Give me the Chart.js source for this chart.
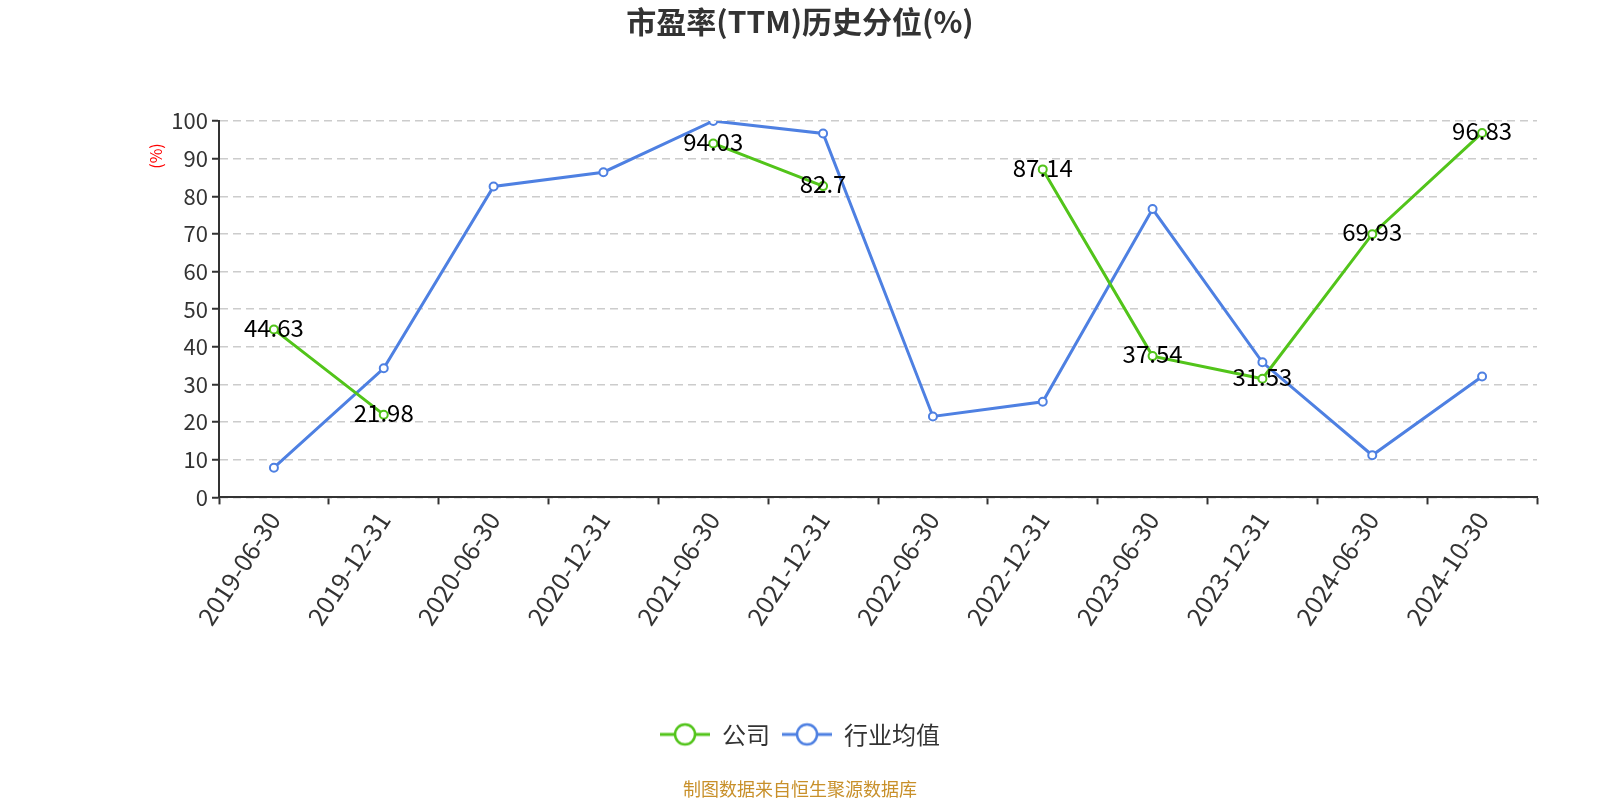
<!DOCTYPE html>
<html>
<head>
<meta charset="utf-8">
<script src="https://cdn.jsdelivr.net/npm/chart.js@4/dist/chart.umd.min.js"></script>
<style>
html,body{margin:0;padding:0;background:#fff;}
#wrap{width:1600px;height:800px;position:relative;}
</style>
</head>
<body>
<div id="wrap"><canvas id="c" width="1600" height="800"></canvas></div>
<script>
const categories = ['2019-06-30','2019-12-31','2020-06-30','2020-12-31','2021-06-30','2021-12-31','2022-06-30','2022-12-31','2023-06-30','2023-12-31','2024-06-30','2024-10-30'];
const companyValues = [44.63, 21.98, null, null, 94.03, 82.7, null, 87.14, 37.54, 31.53, 69.93, 96.83];
const industryValues = [7.9, 34.3, 82.6, 86.4, 100, 96.7, 21.5, 25.4, 76.6, 35.9, 11.2, 32.1];
const yTicks = [0,10,20,30,40,50,60,70,80,90,100];

const FONT = '"Noto Sans CJK SC", "Noto Sans", sans-serif';
const GREEN = '#52c41a';
const BLUE = '#4e80e2';

function legendIcon(color){
  const c = document.createElement('canvas');
  c.width = 50; c.height = 26;
  const g = c.getContext('2d');
  g.strokeStyle = color; g.lineWidth = 3;
  g.beginPath(); g.moveTo(0,13); g.lineTo(50,13); g.stroke();
  g.beginPath(); g.arc(25,13,10,0,Math.PI*2);
  g.fillStyle = '#fff'; g.fill();
  g.lineWidth = 2.5; g.stroke();
  return c;
}

const dataLabels = {
  id: 'dataLabels',
  afterDatasetsDraw(chart){
    const ctx = chart.ctx;
    const meta = chart.getDatasetMeta(0);
    ctx.save();
    ctx.font = '24px ' + FONT;
    ctx.fillStyle = '#000';
    ctx.textAlign = 'center';
    ctx.textBaseline = 'middle';
    meta.data.forEach((pt, i) => {
      const v = companyValues[i];
      if (v === null || v === undefined) return;
      ctx.fillText(String(v), pt.x, pt.y - 2);
    });
    ctx.restore();
  }
};

const yUnit = {
  id: 'yUnit',
  afterDraw(chart){
    const ctx = chart.ctx;
    const a = chart.chartArea;
    ctx.save();
    ctx.translate(a.left - 63, a.top + 35);
    ctx.rotate(-Math.PI/2);
    ctx.font = '16px ' + FONT;
    ctx.fillStyle = '#ff0000';
    ctx.textAlign = 'center';
    ctx.textBaseline = 'middle';
    ctx.fillText('(%)', 0, 0);
    ctx.restore();
  }
};

new Chart(document.getElementById('c'), {
  type: 'line',
  data: {
    labels: categories,
    datasets: [
      {
        label: '公司',
        data: companyValues,
        borderColor: GREEN,
        backgroundColor: '#fff',
        borderWidth: 3,
        pointRadius: 4,
        pointBorderWidth: 2,
        pointBackgroundColor: '#fff',
        pointBorderColor: GREEN,
        spanGaps: false,
        tension: 0
      },
      {
        label: '行业均值',
        data: industryValues,
        borderColor: BLUE,
        backgroundColor: '#fff',
        borderWidth: 3,
        pointRadius: 4,
        pointBorderWidth: 2,
        pointBackgroundColor: '#fff',
        pointBorderColor: BLUE,
        tension: 0
      }
    ]
  },
  options: {
    responsive: false,
    animation: false,
    layout: { padding: { left: 63, right: 63, top: 0, bottom: 0 } },
    plugins: {
      title: {
        display: true,
        text: '市盈率(TTM)历史分位(%)',
        color: '#333',
        font: { family: FONT, size: 30, weight: 'bold' },
        padding: { top: 4, bottom: 81 }
      },
      subtitle: {
        display: true,
        position: 'bottom',
        text: '制图数据来自恒生聚源数据库',
        color: '#c8902a',
        font: { family: FONT, size: 18 },
        padding: { top: 22, bottom: 0 }
      },
      legend: {
        position: 'bottom',
        labels: {
          color: '#333',
          font: { family: FONT, size: 24 },
          usePointStyle: true,
          pointStyleWidth: 50,
          boxHeight: 26,
          padding: 12,
          generateLabels(chart){
            return chart.data.datasets.map((ds, i) => ({
              text: ds.label,
              pointStyle: legendIcon(ds.borderColor),
              fillStyle: '#fff',
              strokeStyle: ds.borderColor,
              lineWidth: 0,
              hidden: false,
              datasetIndex: i,
              fontColor: '#333'
            }));
          }
        }
      },
      tooltip: { enabled: false }
    },
    scales: {
      x: {
        offset: true,
        grid: {
          display: true,
          drawOnChartArea: false,
          drawTicks: true,
          offset: true,
          tickLength: 7,
          tickColor: '#333',
          tickWidth: 2
        },
        border: { display: true, color: '#333', width: 2 },
        ticks: {
          color: '#333',
          font: { family: FONT, size: 25 },
          minRotation: 57,
          maxRotation: 57,
          autoSkip: false,
          padding: 2
        },
        afterFit(axis){ axis.height = 213; }
      },
      y: {
        min: 0,
        max: 100,
        afterBuildTicks(axis){ axis.ticks = yTicks.map(v => ({ value: v })); },
        afterFit(axis){ axis.width = 156; },
        grid: {
          color: '#cccccc',
          lineWidth: 1.5,
          drawTicks: true,
          tickLength: 7,
          tickColor: '#333',
          tickWidth: 2,
          tickBorderDash: []
        },
        border: { display: true, color: '#333', width: 2, dash: [8, 5] },
        ticks: {
          color: '#333',
          font: { family: FONT, size: 22 },
          padding: 4
        }
      }
    }
  },
  plugins: [dataLabels, yUnit]
});
</script>
</body>
</html>
